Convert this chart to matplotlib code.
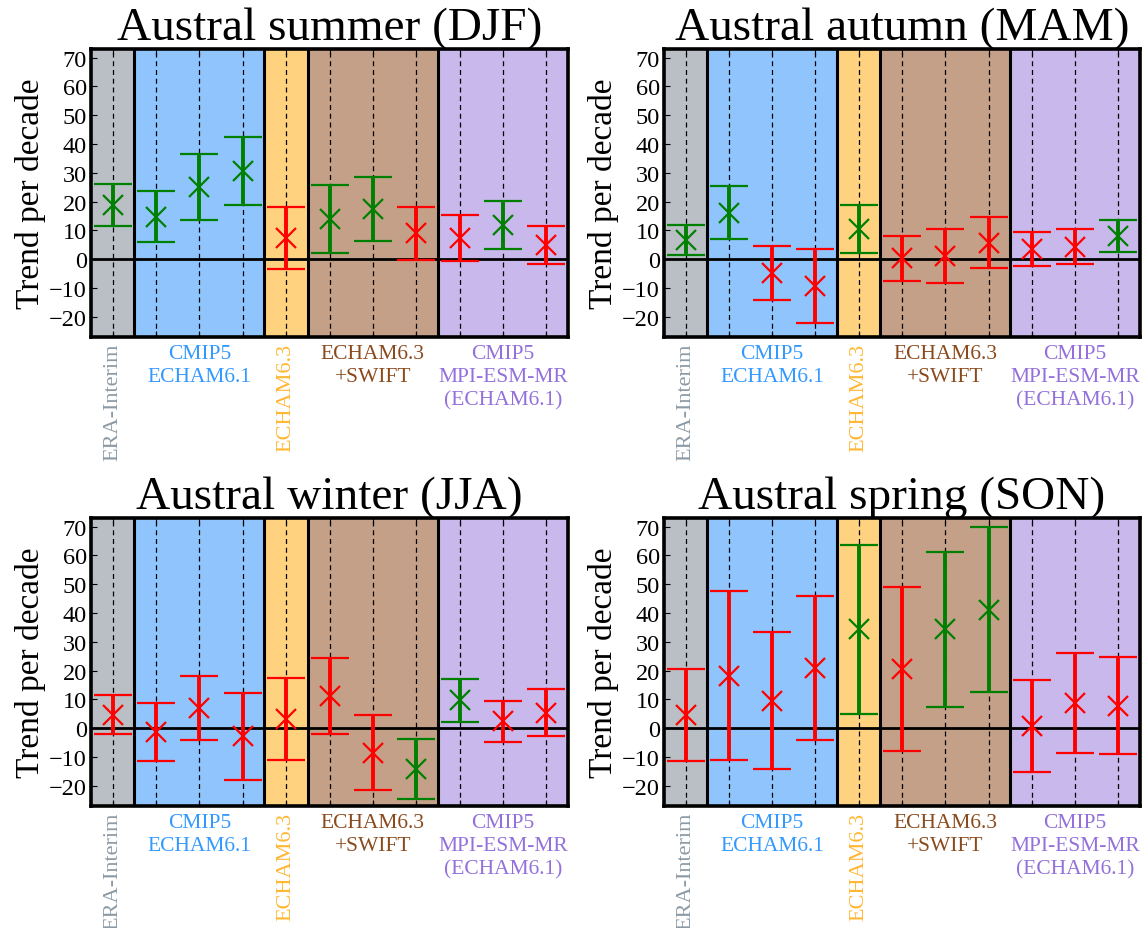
import matplotlib
matplotlib.use("Agg")
import matplotlib.pyplot as plt
import numpy as np

plt.rcParams["font.family"] = ["Liberation Serif", "DejaVu Serif"]
plt.rcParams["mathtext.fontset"] = "dejavuserif"
plt.rcParams["axes.unicode_minus"] = True

# Experiments along the x axis (one dashed column each)
experiments = ["ERA-Interim",
               "CMIP5 ECHAM6.1 a", "CMIP5 ECHAM6.1 b", "CMIP5 ECHAM6.1 c",
               "ECHAM6.3",
               "SWIFT a", "SWIFT b", "SWIFT c",
               "MPI-ESM-MR a", "MPI-ESM-MR b", "MPI-ESM-MR c"]

seasons = ["Austral summer (DJF)", "Austral autumn (MAM)",
           "Austral winter (JJA)", "Austral spring (SON)"]

# Trend per decade (central estimate) and half-width of the confidence interval
djf_trend = [18.8, 14.8, 25.2, 30.6, 7.4, 13.9, 17.4, 9.1, 7.4, 11.9, 4.9]
djf_err = [7.3, 8.8, 11.5, 11.7, 10.9, 11.8, 11.2, 9.2, 7.9, 8.2, 6.6]
djf_sig = [1, 1, 1, 1, 0, 1, 1, 0, 0, 1, 0]

mam_trend = [6.7, 16.2, -4.8, -9.4, 10.5, 0.3, 1.1, 5.8, 3.6, 4.4, 8.0]
mam_err = [5.2, 9.1, 9.3, 12.8, 8.4, 7.7, 9.3, 9.0, 5.9, 6.1, 5.5]
mam_sig = [1, 1, 0, 0, 1, 0, 0, 0, 0, 0, 1]

jja_trend = [4.7, -1.2, 7.1, -2.8, 3.2, 11.2, -8.5, -14.2, 9.7, 2.4, 5.4]
jja_err = [6.7, 10.1, 11.1, 15.2, 14.1, 13.3, 13.1, 10.3, 7.4, 7.1, 8.2]
jja_sig = [0, 0, 0, 0, 0, 0, 0, 1, 1, 0, 0]

son_trend = [4.6, 18.3, 9.6, 20.9, 34.3, 20.6, 34.4, 41.2, 0.9, 8.8, 7.8]
son_err = [15.9, 29.3, 23.8, 25.1, 29.3, 28.4, 26.9, 28.7, 16.0, 17.3, 16.9]
son_sig = [0, 0, 0, 0, 1, 0, 1, 1, 0, 0, 0]

panel_trends = [djf_trend, mam_trend, jja_trend, son_trend]
panel_errs = [djf_err, mam_err, jja_err, son_err]
panel_sigs = [djf_sig, mam_sig, jja_sig, son_sig]

# Model groups: column span, shading, label, label colour, rotation
group_labels = ["ERA-Interim", "CMIP5\nECHAM6.1", "ECHAM6.3",
                "ECHAM6.3\n+SWIFT", "CMIP5\nMPI-ESM-MR\n(ECHAM6.1)"]
group_spans = [(0, 0), (1, 3), (4, 4), (5, 7), (8, 10)]
group_fill = ["#b9bfc5", "#8fc4fd", "#fed27f", "#c4a088", "#c8b8eb"]
group_text = ["#8b9aa5", "#3399ff", "#ffb733", "#8b4a1c", "#9370db"]
group_rot = [True, False, True, False, False]

yticks = list(range(-20, 71, 10))

fig = plt.figure(figsize=(11.42, 9.29), dpi=100)
W, H = 1142, 929
boxes = [(91, 50, 568, 338), (664, 50, 1140, 338),
         (91, 519, 568, 807), (664, 519, 1140, 807)]

x = np.arange(len(experiments))

for k, (l, t, r, b) in enumerate(boxes):
    ax = fig.add_axes([l / W, 1 - b / H, (r - l) / W, (b - t) / H])
    ax.set_xlim(-0.5, len(experiments) - 0.5)
    ax.set_ylim(-27, 73)

    for (i0, i1), fc in zip(group_spans, group_fill):
        ax.axvspan(i0 - 0.5, i1 + 0.5, color=fc, lw=0, zorder=0)
    for (i0, i1) in group_spans[1:]:
        ax.axvline(i0 - 0.5, color="black", lw=2.2, zorder=2)
    for xi in x:
        ax.axvline(xi, color="black", lw=0.9, ls=(0, (4, 3)), zorder=1)
    ax.axhline(0, color="black", lw=2.0, zorder=2)

    trend = np.array(panel_trends[k])
    err = np.array(panel_errs[k])
    sig = panel_sigs[k]
    for xi, tr, er, s in zip(x, trend, err, sig):
        c = "#008000" if s else "#ff0000"
        ax.errorbar(xi, tr, yerr=er, fmt="x", color=c, ecolor=c,
                    elinewidth=2.8, capsize=14, capthick=1.8,
                    markersize=14, markeredgewidth=1.6, zorder=3)

    ax.set_yticks(yticks)
    ax.set_xticks(x)
    ax.set_xticklabels([])
    ax.tick_params(axis="both", direction="in", length=4, width=0.8,
                   top=True, bottom=True, left=True, right=False)
    ax.tick_params(axis="y", labelsize=17.5, pad=3)
    for sp in ax.spines.values():
        sp.set_linewidth(2.6)
        sp.set_zorder(4)
    ax.set_ylabel("Trend per decade", fontsize=24, labelpad=2)
    ax.set_title(seasons[k], fontsize=34, pad=4)

    for (i0, i1), lab, tc, rot in zip(group_spans, group_labels,
                                      group_text, group_rot):
        xc = (i0 + i1) / 2
        if rot:
            ax.text(xc, -0.02, lab, transform=ax.get_xaxis_transform(),
                    rotation=90, ha="center", va="top", color=tc,
                    fontsize=16)
        else:
            ax.text(xc, -0.025, lab, transform=ax.get_xaxis_transform(),
                    ha="center", va="top", color=tc, fontsize=15.5,
                    linespacing=1.3)

fig.savefig("out.png", dpi=100)
